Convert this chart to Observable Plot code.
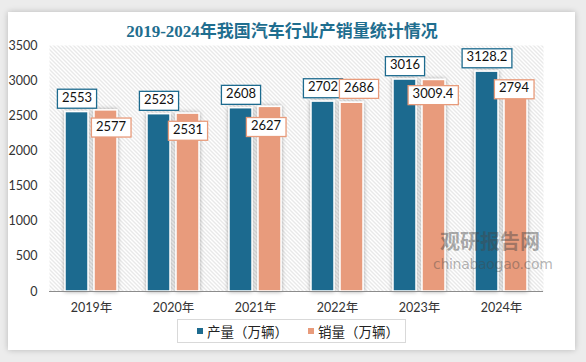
<!DOCTYPE html>
<html><head><meta charset="utf-8">
<script src="https://cdn.jsdelivr.net/npm/d3@7"></script>
<script src="https://cdn.jsdelivr.net/npm/@observablehq/plot@0.6"></script>
<style>
body{margin:0;width:586px;height:362px;background:#ececec;position:relative;overflow:hidden;font-family:Lato,"Noto Sans CJK SC",sans-serif}
#panel{position:absolute;left:8px;top:12px;width:567px;height:338px;background:#fff;box-shadow:0 0 6px rgba(0,0,0,.22)}
#chart{position:absolute;left:0;top:0}
#title{position:absolute;left:0;width:564px;top:22px;text-align:center;font-weight:bold;font-size:17px;line-height:20px;font-family:"Liberation Serif","Noto Sans CJK SC",serif;color:#1f6e8f}
#legend{position:absolute;left:177px;top:319px;width:227px;height:22px;border:1px solid #d9d9d9;display:flex;align-items:center;font-size:13.5px;color:#222;font-family:"Noto Sans CJK SC",sans-serif}
.sw{display:inline-block;width:6px;height:6px;margin-right:4px}
.item{display:flex;align-items:center}
#wm1{position:absolute;left:440px;top:231px;font:bold 20px "Noto Sans CJK SC";color:rgba(70,70,70,.45);line-height:20px}
#wm2{position:absolute;left:433px;top:257px;font:14px "DejaVu Sans";color:rgba(70,70,70,.4);line-height:14px;letter-spacing:-0.3px}
</style></head>
<body>
<div id="panel"></div>
<div id="chart"></div>
<div id="title"></div>
<div id="wm1">观研报告网</div>
<div id="wm2">chinabaogao.com</div>
<div id="legend"></div>
<script>
const titleText = "2019-2024年我国汽车行业产销量统计情况";
const years = ["2019", "2020", "2021", "2022", "2023", "2024"];
const production = [2553, 2523, 2608, 2702, 3016, 3128.2];
const sales = [2577, 2531, 2627, 2686, 3009.4, 2794];
const seriesNames = ["产量（万辆）", "销量（万辆）"];
const yTicks = [0, 500, 1000, 1500, 2000, 2500, 3000, 3500];
// label placement tweaks (layout, not data)
const salesLabelDy = [16, 16, 19, -15, 14, -7];
const salesLabelDx = [5, 0, -4, 7, -1, -2];

const teal = "#1d6b8f", orange = "#e89b7b";
document.getElementById("title").textContent = titleText;

const prodRows = years.map((y, i) => ({year: y, value: production[i]}));
const salesRows = years.map((y, i) => ({year: y, value: sales[i]}));

const labelStyle = {fill: "#111", fontSize: 13, fontFamily: "Lato, 'Noto Sans CJK SC'"};

const plot = Plot.plot({
  width: 586, height: 362,
  marginLeft: 49, marginRight: 43, marginTop: 45, marginBottom: 71,
  style: {fontSize: "12.5px", fontFamily: "Lato, 'Noto Sans CJK SC', sans-serif", color: "#333", background: "transparent"},
  x: {domain: years, paddingInner: 0.37, paddingOuter: 0.19, label: null, tickSize: 0, tickPadding: 12, tickFormat: d => d + "年"},
  y: {domain: [0, 3500], ticks: yTicks, label: null, tickSize: 0, tickPadding: 12, tickFormat: d => String(d)},
  marks: [
    Plot.frame({fill: "url(#hatch)"}),
    Plot.barY(prodRows, {x: "year", y: "value", fill: teal, stroke: "white", strokeWidth: 1.5, insetRight: 29, className: "bars"}),
    Plot.barY(salesRows, {x: "year", y: "value", fill: orange, stroke: "white", strokeWidth: 1.5, insetLeft: 29, className: "bars"}),
    Plot.ruleY([0], {stroke: "#8c8c8c"}),
    Plot.text(prodRows, {x: "year", y: "value", text: d => String(d.value), dx: -14.5, dy: -14.5, className: "lab-prod", ...labelStyle}),
    ...salesRows.map((d, i) => Plot.text([d], {x: "year", y: "value", text: d => String(d.value), dx: 14.5 + salesLabelDx[i], dy: salesLabelDy[i], className: "lab-sales", ...labelStyle}))
  ]
});
document.getElementById("chart").appendChild(plot);

const svg = d3.select(plot);
const defs = svg.insert("defs", ":first-child");
const pat = defs.append("pattern").attr("id", "hatch").attr("patternUnits", "userSpaceOnUse").attr("width", 4).attr("height", 4);
pat.append("rect").attr("width", 4).attr("height", 4).attr("fill", "#ffffff");
pat.append("path").attr("d", "M-1,-1L5,5M3,-1L5,1M-1,3L1,5").attr("stroke", "#d2d2d2").attr("stroke-width", 1);
const f = defs.append("filter").attr("id", "shadow").attr("x", "-40%").attr("y", "-10%").attr("width", "180%").attr("height", "120%");
f.append("feDropShadow").attr("dx", 0).attr("dy", 0).attr("stdDeviation", 2).attr("flood-color", "#000").attr("flood-opacity", 0.35);
svg.selectAll("g.bars").attr("filter", "url(#shadow)");

function boxes(cls, color) {
  svg.selectAll("g." + cls + " text").each(function() {
    const bb = this.getBBox();
    const r = document.createElementNS("http://www.w3.org/2000/svg", "rect");
    r.setAttribute("x", bb.x - 4.5);
    r.setAttribute("y", bb.y + 0.5);
    r.setAttribute("width", bb.width + 9);
    r.setAttribute("height", bb.height + 3);
    r.setAttribute("fill", "white");
    r.setAttribute("stroke", color);
    r.setAttribute("stroke-width", 1.3);
    const t = this.getAttribute("transform");
    if (t) r.setAttribute("transform", t);
    this.parentNode.insertBefore(r, this);
  });
}
boxes("lab-prod", teal);
boxes("lab-sales", orange);

const lg = document.getElementById("legend");
[[seriesNames[0], teal, 19], [seriesNames[1], orange, 20]].forEach(([name, c, ml]) => {
  const it = document.createElement("div");
  it.className = "item";
  it.style.marginLeft = ml + "px";
  it.innerHTML = `<span class="sw" style="background:${c}"></span><span>${name}</span>`;
  lg.appendChild(it);
});
</script>
</body></html>
